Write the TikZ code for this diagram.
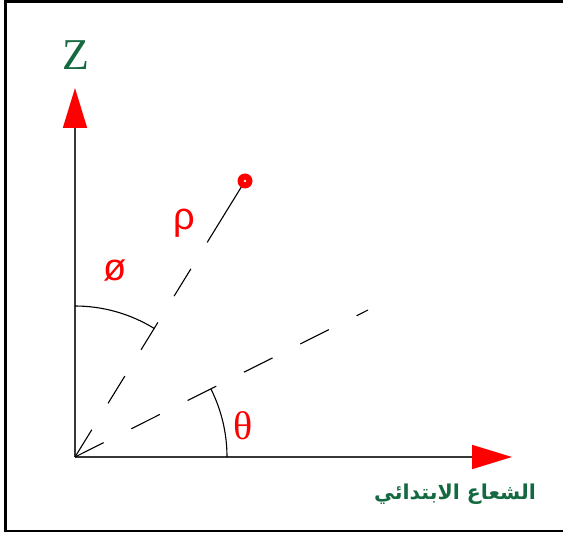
\documentclass[tikz,border=0pt]{standalone}
\usepackage{fontspec}
\usetikzlibrary{calc,arrows.meta}
\newfontfamily\seriffnt{Liberation Serif}
\newfontfamily\sansfnt{Liberation Sans}
\newfontfamily\arabicfont[Script=Arabic]{DejaVu Sans}
\TeXXeTstate=1
\definecolor{labelgreen}{RGB}{20,105,65}
\definecolor{axisgray}{RGB}{55,55,55}

\begin{document}
\begin{tikzpicture}[x=1pt,y=1pt,
	axis/.style={draw=axisgray,line width=1.8pt,-{Triangle[length=40pt,width=24pt,color=red]}},
	ray/.style={line width=1.1pt,dash pattern=on 32pt off 31pt},
	anglearc/.style={line width=1.1pt},
	greek/.style={text=red,font=\sansfnt\fontsize{38}{44}\selectfont}]
	\useasboundingbox (0,0) rectangle (564,533);

	%% frame, open on the right side
	\draw[line width=2.5pt] (563,531.5) -- (5.5,531.5) -- (5.5,2) -- (563,2);

	%% origin, axis tips and the point
	\coordinate (O) at (75,76);
	\coordinate (Ztip) at (75,445);
	\coordinate (Xtip) at (512,76);
	\coordinate (P) at (245,352); % the point
	\coordinate (E) at (368,223); % end of the projected ray
	\coordinate (R) at ($(O)!0.78!(P)$); % start of last (long) dash

	\draw[axis] (O) -- (Ztip);
	\draw[axis] (O) -- (Xtip);

	%% rays
	\draw[ray] (O) -- (R);
	\draw[line width=1.1pt] (R) -- (P);
	\draw[ray] (O) -- (E);

	%% angles
	\draw[anglearc] ($(O)+(90:151)$) arc[start angle=90,end angle=58.4,radius=151];
	\draw[anglearc] ($(O)+(0:152)$) arc[start angle=0,end angle=26.6,radius=152];

	%% the point
	\fill[red] (P) circle (7.5);
	\fill[white] (P) circle (1.3);

	%% labels
	\node[text=labelgreen,font=\seriffnt\fontsize{44}{52}\selectfont] (zlabel) at (76,478) {Z};
	\node[greek] (rholabel) at (184,310) {ρ};
	\node[greek] (philabel) at (115,263) {ø};
	\node[text=red,font=\seriffnt\fontsize{40}{48}\selectfont] (thetalabel) at (243,107) {θ};
	\node[text=labelgreen,font=\arabicfont\bfseries\fontsize{20.5}{24}\selectfont] (raylabel) at (455,39) {\beginR الشعاع الابتدائي\endR};
\end{tikzpicture}
\end{document}
